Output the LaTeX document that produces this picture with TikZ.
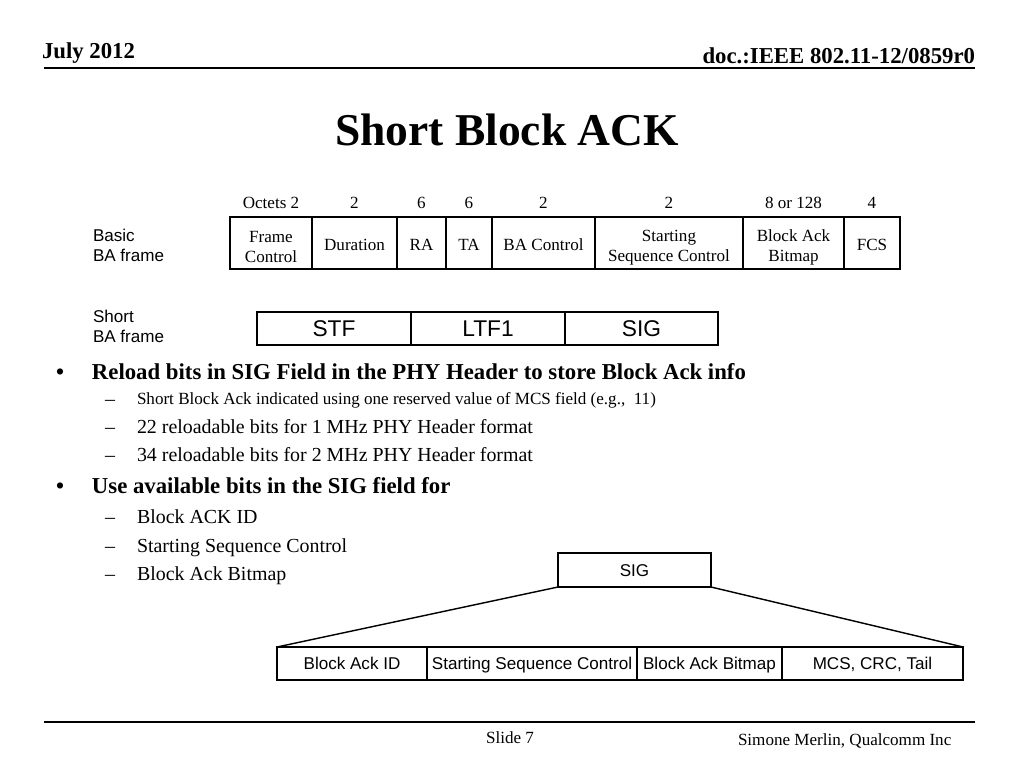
\documentclass[tikz,border=0pt]{standalone}
\usepackage{fontspec}
\setmainfont{Liberation Serif}
\setsansfont{Liberation Sans}
\usetikzlibrary{positioning}
\def\pxl{0.703pt}
\def\lift{\rule{0pt}{14pt}}

\begin{document}
\begin{tikzpicture}[% one unit is one pixel of the slide, y runs downwards
				x=0.703pt, y=-0.703pt,
				every node/.style={
					inner sep=0pt,		% no padding, cells are sized by hand
					outer sep=0pt
				},
				cell/.style={draw,line width=1pt,minimum height=52*\pxl,align=center,font=\fontsize{12}{14}\selectfont},
				octet/.style={font=\fontsize{12}{14}\selectfont},
				sfcell/.style={draw,line width=1pt,minimum height=33*\pxl,text height=11.5pt,text depth=0pt,font=\sffamily\fontsize{16}{18}\selectfont},
				sigcell/.style={draw,line width=1pt,minimum height=33*\pxl,text height=8.6pt,text depth=0pt,font=\sffamily\fontsize{12}{13}\selectfont},
				lbl/.style={align=left,font=\sffamily\fontsize{12}{14}\selectfont},
				bigb/.style={anchor=base west,font=\bfseries\fontsize{16}{19}\selectfont},
				subb/.style={anchor=base west,font=\fontsize{14}{17}\selectfont},
				dashb/.style={anchor=base,font=\fontsize{14}{17}\selectfont},
				hdr/.style={font=\bfseries\fontsize{16}{19}\selectfont},
				ftr/.style={font=\fontsize{12}{14}\selectfont}
			]
			\useasboundingbox (0,0) rectangle (1024,768);
			% header and footer
			\node[hdr,anchor=base west](date) at (42,58) {July 2012};
			\node[hdr,anchor=base east](doc) at (975,63) {doc.:IEEE 802.11-12/0859r0};
			\draw[line width=1.4pt] (44,68) -- (975,68);
			\node[font=\bfseries\fontsize{32}{38}\selectfont](title) at (507,130) {Short Block ACK};
			\draw[line width=1.4pt] (44,722) -- (975,722);
			\node[ftr,anchor=base](slide) at (510,743) {Slide 7};
			\node[ftr,anchor=base west](author) at (738,745) {Simone Merlin, Qualcomm Inc};
			% basic BA frame
			\node[cell,minimum width=82*\pxl,anchor=north west](fc) at (230,217) {\lift Frame\\Control};
			\node[cell,minimum width=85*\pxl](dur)[right=0pt of fc]{\rule{0pt}{10pt}Duration};
			\node[cell,minimum width=49*\pxl](ra)[right=0pt of dur]{\rule{0pt}{10pt}RA};
			\node[cell,minimum width=46*\pxl](ta)[right=0pt of ra]{\rule{0pt}{10pt}TA};
			\node[cell,minimum width=103*\pxl](bac)[right=0pt of ta]{\rule{0pt}{10pt}BA Control};
			\node[cell,minimum width=148*\pxl](ssc)[right=0pt of bac]{\lift Starting\\Sequence Control};
			\node[cell,minimum width=101*\pxl](bab)[right=0pt of ssc]{\lift Block Ack\\Bitmap};
			\node[cell,minimum width=56*\pxl](fcs)[right=0pt of bab]{\rule{0pt}{10pt}FCS};
			\coordinate (octy) at (0,203);
			\node[octet] at (fc |- octy) {Octets 2};
			\node[octet] at (dur |- octy) {2};
			\node[octet] at (ra |- octy) {6};
			\node[octet] at (ta |- octy) {6};
			\node[octet] at (bac |- octy) {2};
			\node[octet] at (ssc |- octy) {2};
			\node[octet] at (bab |- octy) {8 or 128};
			\node[octet] at (fcs |- octy) {4};
			\node[lbl,anchor=west](basic) at (93,245) {Basic\\BA frame};
			% short BA frame
			\node[sfcell,minimum width=154*\pxl,anchor=north west](stf) at (257,312) {STF};
			\node[sfcell,minimum width=154*\pxl](ltf)[right=0pt of stf]{LTF1};
			\node[sfcell,minimum width=153*\pxl](sig)[right=0pt of ltf]{SIG};
			\node[lbl,anchor=west](short) at (93,326) {Short\\BA frame};
			% bullets
			\node[bigb,anchor=base](d1) at (60,379) {•};
			\node[bigb](b1) at (92,379) {Reload bits in SIG Field in the PHY Header to store Block Ack info};
			\node[dashb](d11) at (110,405) {–};
			\node[anchor=base west,font=\fontsize{12}{14}\selectfont](b11) at (137,404) {Short Block Ack indicated using one reserved value of MCS field (e.g.,\ \ 11)};
			\node[dashb](d12) at (110,433) {–};
			\node[subb](b12) at (137,433) {22 reloadable bits for 1 MHz PHY Header format};
			\node[dashb](d13) at (110,461) {–};
			\node[subb](b13) at (137,461) {34 reloadable bits for 2 MHz PHY Header format};
			\node[bigb,anchor=base](d2) at (60,493) {•};
			\node[bigb](b2) at (92,493) {Use available bits in the SIG field for};
			\node[dashb](d21) at (110,523) {–};
			\node[subb](b21) at (137,523) {Block ACK ID};
			\node[dashb](d22) at (110,552) {–};
			\node[subb](b22) at (137,552) {Starting Sequence Control};
			\node[dashb](d23) at (110,580) {–};
			\node[subb](b23) at (137,580) {Block Ack Bitmap};
			% SIG field expanded
			\node[sigcell,minimum width=153*\pxl,minimum height=34*\pxl,anchor=north west](sigtop) at (558,553) {SIG};
			\node[sigcell,minimum width=150*\pxl,anchor=north west](baid) at (277,647) {Block Ack ID};
			\node[sigcell,minimum width=210*\pxl](sscb)[right=0pt of baid]{Starting Sequence Control};
			\node[sigcell,minimum width=145*\pxl](babb)[right=0pt of sscb]{Block Ack Bitmap};
			\node[sigcell,minimum width=181*\pxl](mcs)[right=0pt of babb]{MCS, CRC, Tail};
			\draw[line width=1pt] (sigtop.south west) -- (baid.north west)
				(sigtop.south east) -- (mcs.north east);
		\end{tikzpicture}
\end{document}
